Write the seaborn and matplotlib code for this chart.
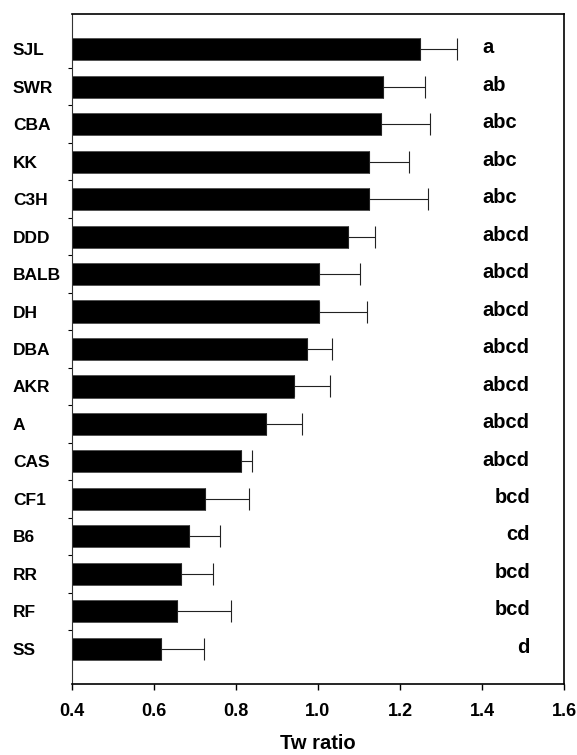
import matplotlib
matplotlib.use("Agg")
import matplotlib.pyplot as plt
import seaborn as sns
import numpy as np
import pandas as pd
from matplotlib.ticker import FixedLocator

strains = ["SJL", "SWR", "CBA", "KK", "C3H", "DDD", "BALB", "DH", "DBA", "AKR",
           "A", "CAS", "CF1", "B6", "RR", "RF", "SS"]
tw_ratio = [1.250, 1.158, 1.153, 1.125, 1.125, 1.073, 1.003, 1.003, 0.972, 0.941,
            0.874, 0.812, 0.724, 0.686, 0.666, 0.655, 0.617]
tw_err = [0.089, 0.103, 0.119, 0.096, 0.144, 0.065, 0.099, 0.116, 0.061, 0.089,
          0.087, 0.028, 0.107, 0.074, 0.079, 0.132, 0.104]
groups = ["a", "ab", "abc", "abc", "abc", "abcd", "abcd", "abcd", "abcd", "abcd",
          "abcd", "abcd", "bcd", "cd", "bcd", "bcd", "d"]
x_ticks = [0.4, 0.6, 0.8, 1.0, 1.2, 1.4, 1.6]
x_label = "Tw ratio"

sns.set_theme(style="ticks")
plt.rcParams["font.family"] = ["Liberation Sans", "DejaVu Sans"]
plt.rcParams["font.weight"] = "bold"
for k in ["text.color", "axes.labelcolor", "xtick.color", "ytick.color",
          "xtick.labelcolor", "ytick.labelcolor", "axes.edgecolor"]:
    plt.rcParams[k] = "black"

df = pd.DataFrame({"strain": strains, "ratio": tw_ratio, "err": tw_err, "grp": groups})

fig = plt.figure(figsize=(5.77, 7.55), dpi=100)
ax = fig.add_axes([72 / 577, 1 - 684 / 755, (564 - 72) / 577, (684 - 14) / 755])

sns.barplot(data=df, x="ratio", y="strain", orient="h", color="black",
            width=0.59, edgecolor="#444444", linewidth=0.5, ax=ax, errorbar=None)

pos = np.arange(len(strains))
ax.errorbar(df["ratio"], pos, xerr=[np.zeros(len(strains)), df["err"]],
            fmt="none", ecolor="#222222", elinewidth=0.8, capsize=8, capthick=0.8)

for i, g in enumerate(groups):
    if g.startswith("a"):
        ax.text(1.40, i + 0.11, g, ha="left", va="baseline", fontsize=14.5,
                fontweight="bold", color="black")
    else:
        ax.text(1.517, i + 0.11, g, ha="right", va="baseline", fontsize=14.5,
                fontweight="bold", color="black")

ax.set_xlim(0.4, 1.6)
ax.set_ylim(len(strains) - 1 + 0.94, -0.94)
ax.set_xticks(x_ticks)
ax.set_xticklabels([f"{t:.1f}" for t in x_ticks], fontsize=13, fontweight="bold",
                   color="black")
ax.tick_params(axis="x", direction="out", length=4, width=1, pad=10,
               colors="black", labelcolor="black")

ax.set_yticks(pos)
ax.set_yticklabels(strains, fontsize=12.5, fontweight="bold", ha="left", color="black")
ax.tick_params(axis="y", which="major", length=0, pad=42.5, labelcolor="black")
ax.yaxis.set_minor_locator(FixedLocator(pos[:-1] + 0.5))
ax.tick_params(axis="y", which="minor", direction="out", length=3, width=0.8, color="black")

ax.set_xlabel(x_label, fontsize=14.5, fontweight="bold", labelpad=10, color="black")
ax.set_ylabel("")

for s in ["top", "right", "bottom"]:
    ax.spines[s].set_visible(True)
    ax.spines[s].set_linewidth(1.2)
    ax.spines[s].set_color("black")
ax.spines["left"].set_linewidth(0.8)
ax.spines["left"].set_color("#333333")

fig.savefig("out.png", dpi=100)
